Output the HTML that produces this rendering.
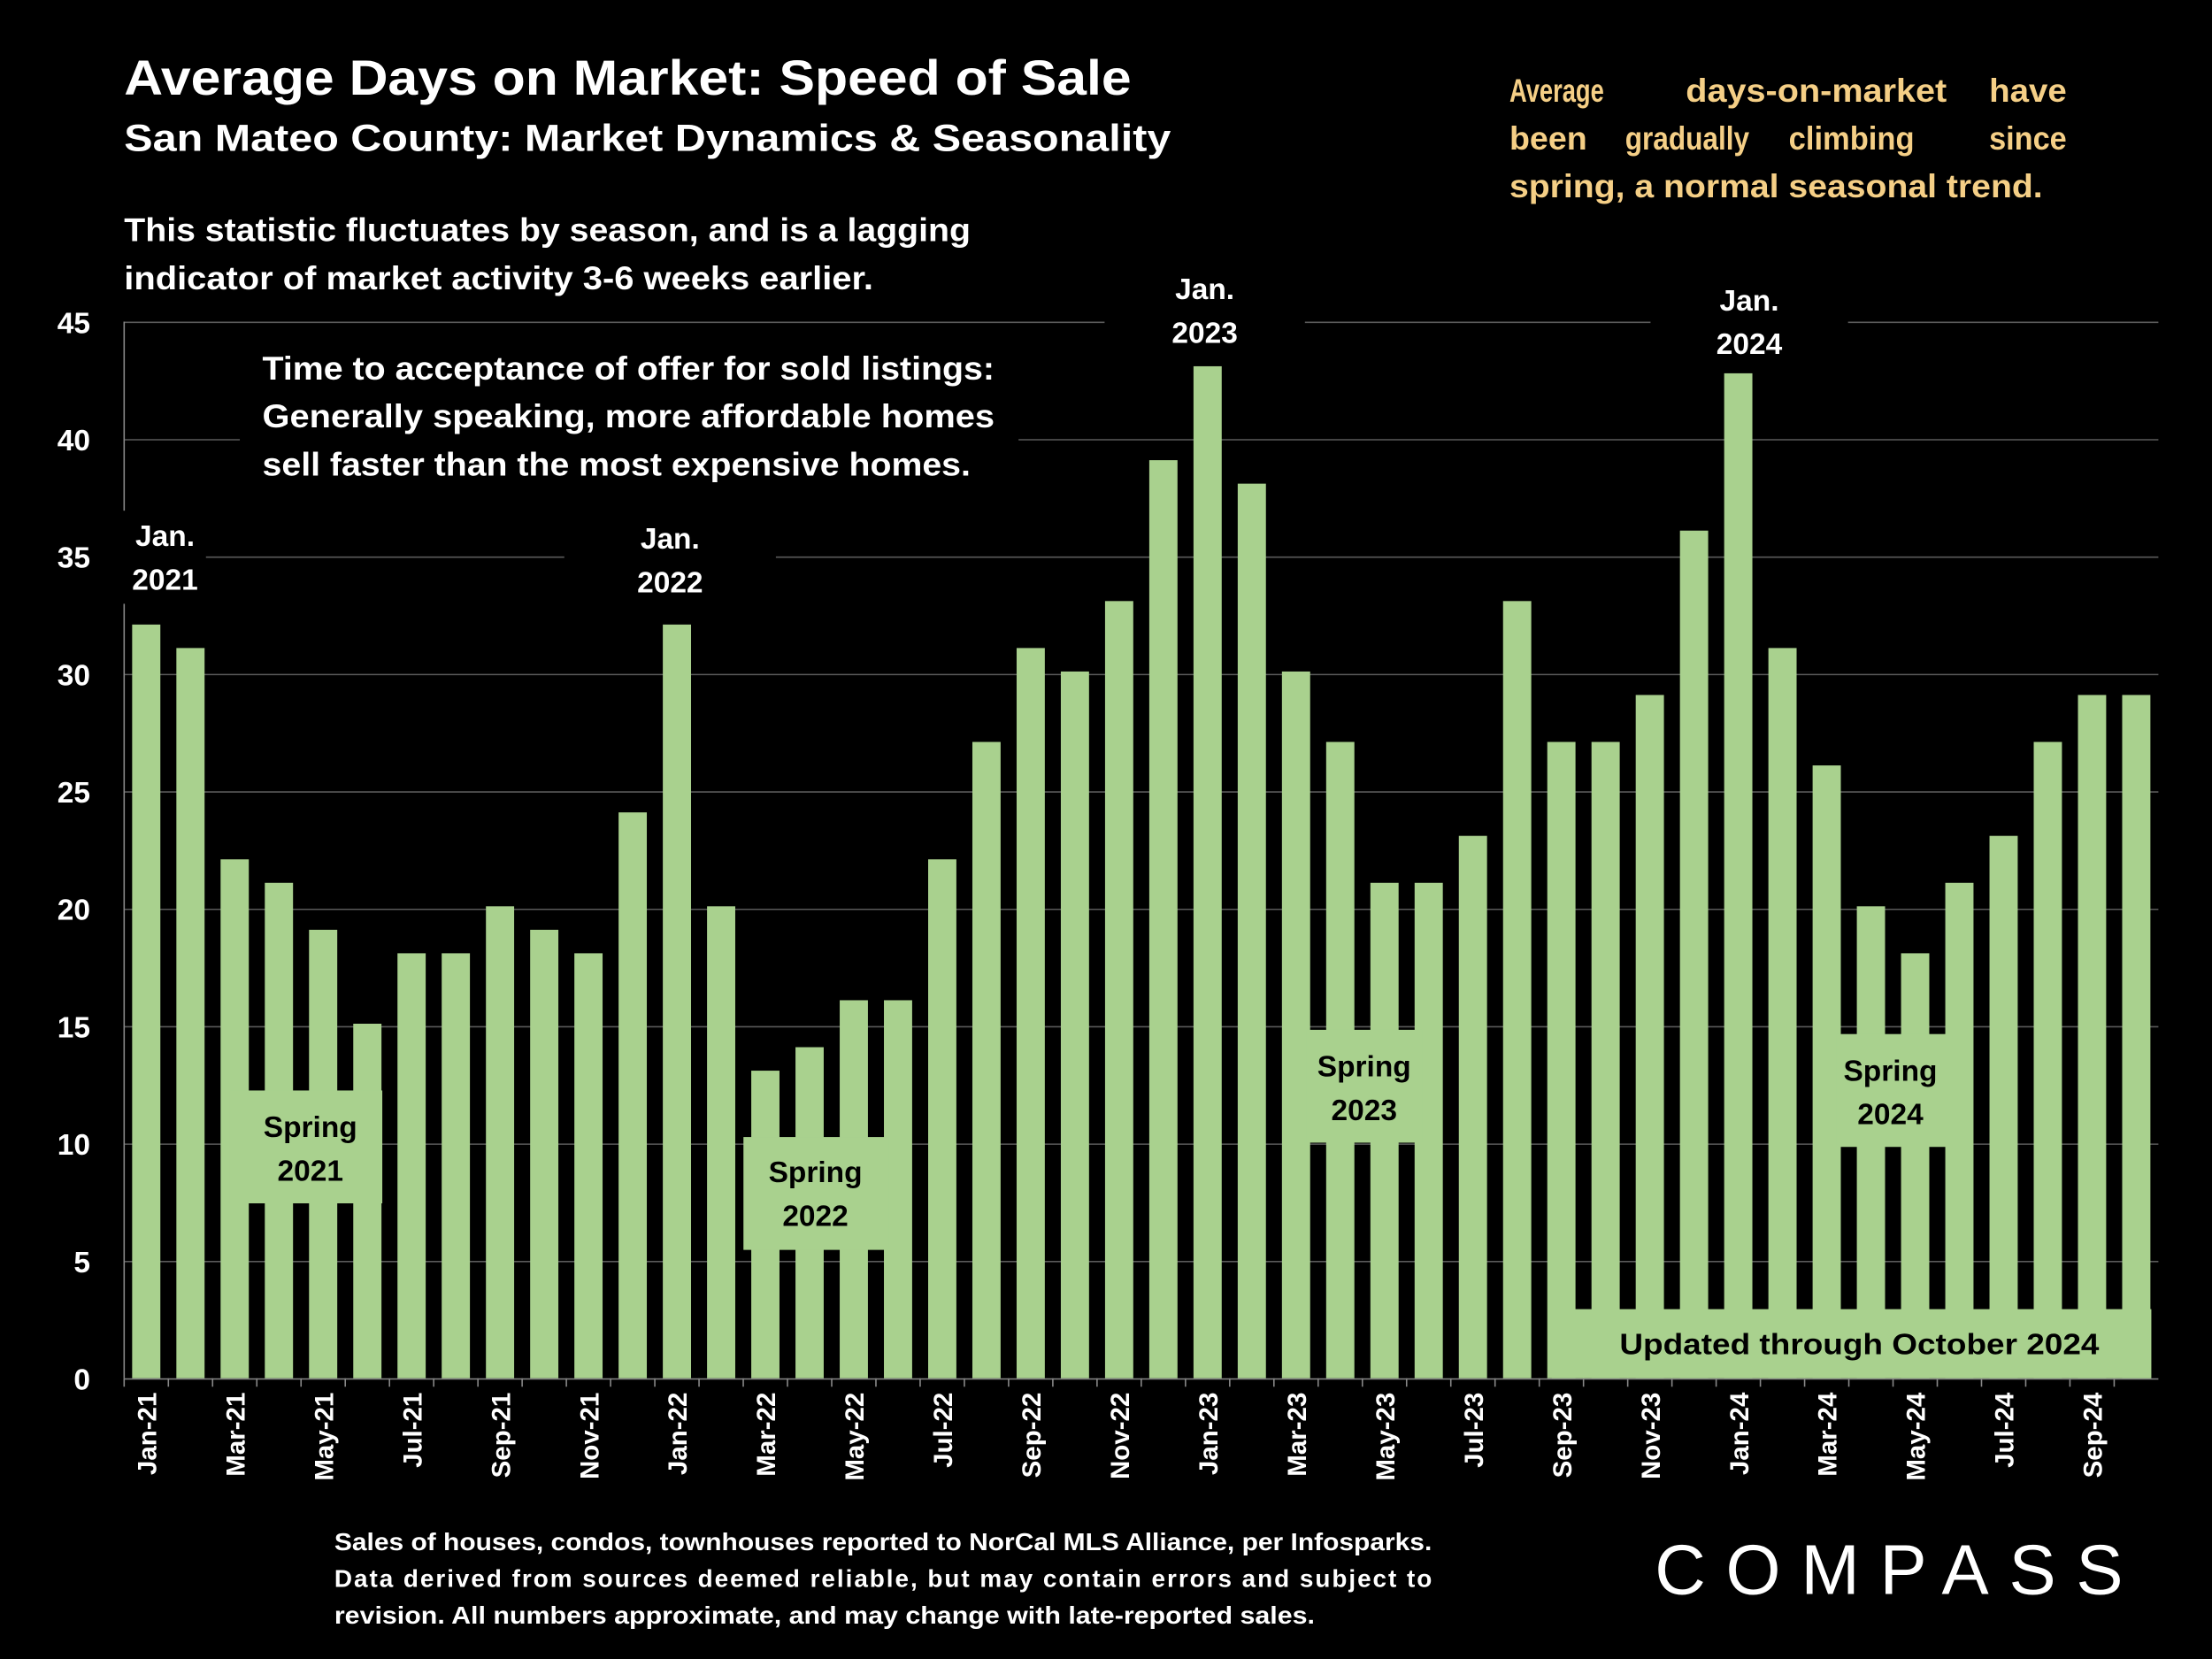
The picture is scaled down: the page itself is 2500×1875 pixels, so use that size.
<!DOCTYPE html>
<html><head><meta charset="utf-8"><style>
html,body{margin:0;padding:0;background:#000;}
svg{display:block;}
text{font-family:"Liberation Sans",sans-serif;font-weight:bold;}
</style></head><body>
<svg id="chart" width="2500" height="1875" viewBox="0 0 1568 1176" xmlns="http://www.w3.org/2000/svg">
<rect width="1568" height="1176" fill="#000"/>
<g id="grid"></g>
<g id="bars"></g>
<g id="yaxis"></g>
<g id="xaxis"></g>
<g id="notes"></g>
<text x="88" y="67" fill="#fff" font-size="35" textLength="714" lengthAdjust="spacingAndGlyphs">Average Days on Market:  Speed of Sale</text>
<text x="88" y="107" fill="#fff" font-size="27" textLength="742" lengthAdjust="spacingAndGlyphs">San Mateo County: Market Dynamics &amp; Seasonality</text>
<text fill="#fff" font-size="23"><tspan x="88" y="171" textLength="600" lengthAdjust="spacingAndGlyphs">This statistic fluctuates by season, and is a lagging</tspan><tspan x="88" y="205" textLength="531" lengthAdjust="spacingAndGlyphs">indicator of market activity 3-6 weeks earlier.</tspan></text>
<g fill="#f5cf86" font-size="23">
<text x="1070" y="72" textLength="67" lengthAdjust="spacingAndGlyphs">Average</text><text x="1195" y="72" textLength="185" lengthAdjust="spacingAndGlyphs">days-on-market</text><text x="1410" y="72" textLength="55" lengthAdjust="spacingAndGlyphs">have</text>
<text x="1070" y="106" textLength="55" lengthAdjust="spacingAndGlyphs">been</text><text x="1152" y="106" textLength="88" lengthAdjust="spacingAndGlyphs">gradually</text><text x="1268" y="106" textLength="89" lengthAdjust="spacingAndGlyphs">climbing</text><text x="1410" y="106" textLength="55" lengthAdjust="spacingAndGlyphs">since</text>
<text x="1070" y="140" textLength="378" lengthAdjust="spacingAndGlyphs">spring, a normal seasonal trend.</text>
</g>
<text fill="#fff" font-size="17.5"><tspan x="237" y="1099" textLength="778" lengthAdjust="spacingAndGlyphs">Sales of houses, condos, townhouses reported to NorCal MLS Alliance, per Infosparks.</tspan><tspan x="237" y="1125" textLength="778" lengthAdjust="spacing">Data derived from sources deemed reliable, but may contain errors and subject to</tspan><tspan x="237" y="1151" textLength="695" lengthAdjust="spacingAndGlyphs">revision. All numbers approximate, and may change with late-reported sales.</tspan></text>
<text x="1173" y="1130" fill="#fff" font-size="50" style="font-weight:normal" textLength="332" lengthAdjust="spacing">COMPASS</text>
</svg>
<script>
const categories=["Jan-21","Feb-21","Mar-21","Apr-21","May-21","Jun-21","Jul-21","Aug-21","Sep-21","Oct-21","Nov-21","Dec-21",
"Jan-22","Feb-22","Mar-22","Apr-22","May-22","Jun-22","Jul-22","Aug-22","Sep-22","Oct-22","Nov-22","Dec-22",
"Jan-23","Feb-23","Mar-23","Apr-23","May-23","Jun-23","Jul-23","Aug-23","Sep-23","Oct-23","Nov-23","Dec-23",
"Jan-24","Feb-24","Mar-24","Apr-24","May-24","Jun-24","Jul-24","Aug-24","Sep-24","Oct-24"];
const values=[32,31,22,21,19,15,18,18,20,19,18,24,
32,20,13,14,16,16,22,27,31,30,33,39,
43,38,30,27,21,21,23,33,27,27,29,36,
42.7,31,26,20,18,21,23,27,29,29];
const yTicks=[0,5,10,15,20,25,30,35,40,45];
const NS="http://www.w3.org/2000/svg";
const X0=88,X1=1530,Y0=977,Y45=228;
const slot=(X1-X0)/categories.length;
const xc=i=>X0+slot*(i+0.5);
const y=v=>Y0-(v/45)*(Y0-Y45);
function el(tag,attrs,parent,txt){const e=document.createElementNS(NS,tag);for(const k in attrs)e.setAttribute(k,attrs[k]);if(txt!==undefined)e.textContent=txt;parent.appendChild(e);return e;}
const grid=document.getElementById('grid'),bars=document.getElementById('bars'),ya=document.getElementById('yaxis'),xa=document.getElementById('xaxis'),notes=document.getElementById('notes');
yTicks.forEach(t=>{
  if(t>0){const g=el('line',{x1:X0,x2:X1,y1:y(t)+0.5,y2:y(t)+0.5,stroke:'#5a5a5a','stroke-width':1},grid);
  
  }
  const l=el('text',{x:64,y:y(t)+8,fill:'#fff','font-size':21,'text-anchor':'end'},ya,String(t));
  
  
});
const ax=el('line',{x1:X0,x2:X0,y1:Y45,y2:Y0,stroke:'#888','stroke-width':1},ya);


const bx=el('line',{x1:X0,x2:X1,y1:Y0+0.5,y2:Y0+0.5,stroke:'#888','stroke-width':1},xa);


categories.forEach((c,i)=>{
  const b=el('rect',{x:xc(i)-10,y:y(values[i]+0.1),width:20,height:Y0-y(values[i]+0.1),fill:'#a9d18e'},bars);
  
  
  const tk=el('line',{x1:X0+slot*i,x2:X0+slot*i,y1:Y0,y2:Y0+6,stroke:'#888'},xa);
  
  
  if(i%2===0){
    const t=el('text',{x:0,y:0,fill:'#fff','font-size':18.5,'text-anchor':'end',transform:`translate(${xc(i)+7},${Y0+10}) rotate(-90)`},xa,c);
    
    
  }
});
function box(name,x,yy,w,h,fill,lines,tx,ty,fs,color,anchor,lh,tl){
  const g=el('g',{},notes);
  
  
  if(w>0)el('rect',{x:x,y:yy,width:w,height:h,fill:fill},g);
  const t=el('text',{fill:color,'font-size':fs,'text-anchor':anchor},g);
  lines.forEach((l,k)=>{const a={x:tx,y:ty+k*lh};if(tl){a.textLength=tl[k];a.lengthAdjust='spacingAndGlyphs';}el('tspan',a,t,l);});
}
box('offer-note',170,240,552,106,'#000',['Time to acceptance of offer for sold listings:','Generally speaking, more affordable homes','sell faster than the most expensive homes.'],186,269,23,'#fff','start',34,[519,519,502]);
box('jan-2021-label',86,362,60,66,'#000',['Jan.','2021'],117,387,21,'#fff','middle',31);
box('jan-2022-label',400,365,150,66,'#000',['Jan.','2022'],475,389,21,'#fff','middle',31);
box('jan-2023-label',783,188,142,66,'#000',['Jan.','2023'],854,212,21,'#fff','middle',31);
box('jan-2024-label',1170,196,140,66,'#000',['Jan.','2024'],1240,220,21,'#fff','middle',31);
box('spring-2021-label',163,773,108,80,'#a9d18e',['Spring','2021'],220,806,21,'#000','middle',31);
box('spring-2022-label',527,806,103,80,'#a9d18e',['Spring','2022'],578,838,21,'#000','middle',31);
box('spring-2023-label',926,730,82,80,'#a9d18e',['Spring','2023'],967,763,21,'#000','middle',31);
box('spring-2024-label',1302,733,78,80,'#a9d18e',['Spring','2024'],1340,766,21,'#000','middle',31);
box('updated-label',1100,928,425,49,'#a9d18e',['Updated through October 2024'],1318,960,21,'#000','middle',31,[340]);
</script>
</body></html>
